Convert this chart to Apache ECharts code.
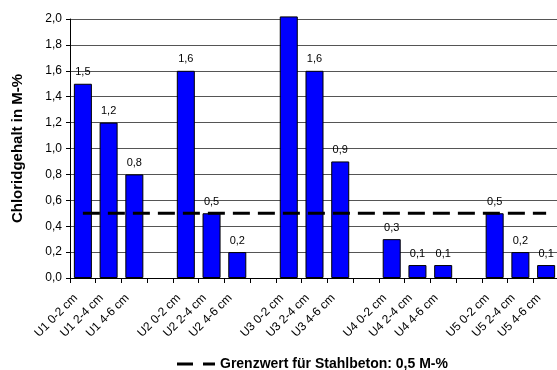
<!DOCTYPE html>
<html>
<head>
<meta charset="utf-8">
<script src="https://cdn.jsdelivr.net/npm/echarts@6/dist/echarts.min.js"></script>
<style>html,body{margin:0;padding:0;background:#fff;}#c{width:557px;height:370px;}</style>
</head>
<body>
<div id="c"></div>
<script>
var categories = ['U1 0-2 cm','U1 2-4 cm','U1 4-6 cm','',
  'U2 0-2 cm','U2 2-4 cm','U2 4-6 cm','',
  'U3 0-2 cm','U3 2-4 cm','U3 4-6 cm','',
  'U4 0-2 cm','U4 2-4 cm','U4 4-6 cm','',
  'U5 0-2 cm','U5 2-4 cm','U5 4-6 cm'];
var chloride = [1.5, 1.2, 0.8, null, 1.6, 0.5, 0.2, null, 2.02, 1.6, 0.9, null, 0.3, 0.1, 0.1, null, 0.5, 0.2, 0.1];
var hiddenLabelIndex = [8];
var limitValue = 0.5;
var limitName = 'Grenzwert für Stahlbeton: 0,5 M-%';
var yTicks = {min: 0, max: 2.0, interval: 0.2};

var FONT = 'Liberation Sans, Arial, sans-serif';
function fmt(v){ return Number(v).toFixed(1).replace('.', ','); }

var barData = chloride.map(function(v, i){
  if (v === null) return '-';
  var item = {value: v};
  if (hiddenLabelIndex.indexOf(i) >= 0) item.label = {show: false};
  return item;
});
var limitData = categories.map(function(){ return limitValue; });

var chart = echarts.init(document.getElementById('c'), null, {renderer: 'canvas'});
chart.setOption({
  animation: false,
  backgroundColor: '#ffffff',
  textStyle: {fontFamily: FONT},
  grid: {left: 70, right: -2, top: 19, bottom: 92, containLabel: false, outerBoundsMode: 'none'},
  legend: {
    data: [{name: limitName, icon: 'path://M0,0H16V3H0ZM26,0H38V3H26Z'}],
    left: 172, top: 352,
    itemWidth: 38, itemHeight: 3, itemGap: 5,
    textStyle: {fontFamily: FONT, fontSize: 14, fontWeight: 'bold', color: '#000'}
  },
  xAxis: {
    type: 'category',
    data: categories,
    boundaryGap: true,
    axisLine: {show: true, lineStyle: {color: '#000', width: 1}},
    axisTick: {show: true, interval: 0, length: 5, lineStyle: {color: '#000'}},
    axisLabel: {interval: 0, rotate: 45, fontSize: 12, color: '#000', fontFamily: FONT, margin: 11,
                padding: [0, 10, 0, 0]},
    splitLine: {show: false}
  },
  yAxis: {
    type: 'value',
    min: yTicks.min, max: yTicks.max, interval: yTicks.interval,
    name: 'Chloridgehalt in M-%',
    nameLocation: 'middle',
    nameGap: 45,
    nameRotate: 90,
    nameTextStyle: {fontFamily: FONT, fontSize: 15, fontWeight: 'bold', color: '#000'},
    axisLine: {show: true, lineStyle: {color: '#000', width: 1}},
    axisTick: {show: true, length: 4, lineStyle: {color: '#000'}},
    axisLabel: {formatter: fmt, fontSize: 12, color: '#000', fontFamily: FONT, margin: 8},
    splitLine: {show: true, lineStyle: {color: '#555', width: 1}}
  },
  series: [
    {
      name: 'Chloridgehalt',
      type: 'bar',
      data: barData,
      barCategoryGap: '30%',
      clip: false,
      itemStyle: {color: '#0000ff', borderColor: '#000', borderWidth: 1},
      label: {show: true, position: 'top', distance: 6, formatter: function(p){ return fmt(p.value); },
              fontSize: 11, color: '#000', fontFamily: FONT}
    },
    {
      name: limitName,
      type: 'line',
      data: limitData,
      symbol: 'none',
      showSymbol: false,
      z: 5,
      lineStyle: {color: '#000', width: 3, type: [17, 8]},
      itemStyle: {color: '#000'}
    }
  ]
});
</script>
</body>
</html>
